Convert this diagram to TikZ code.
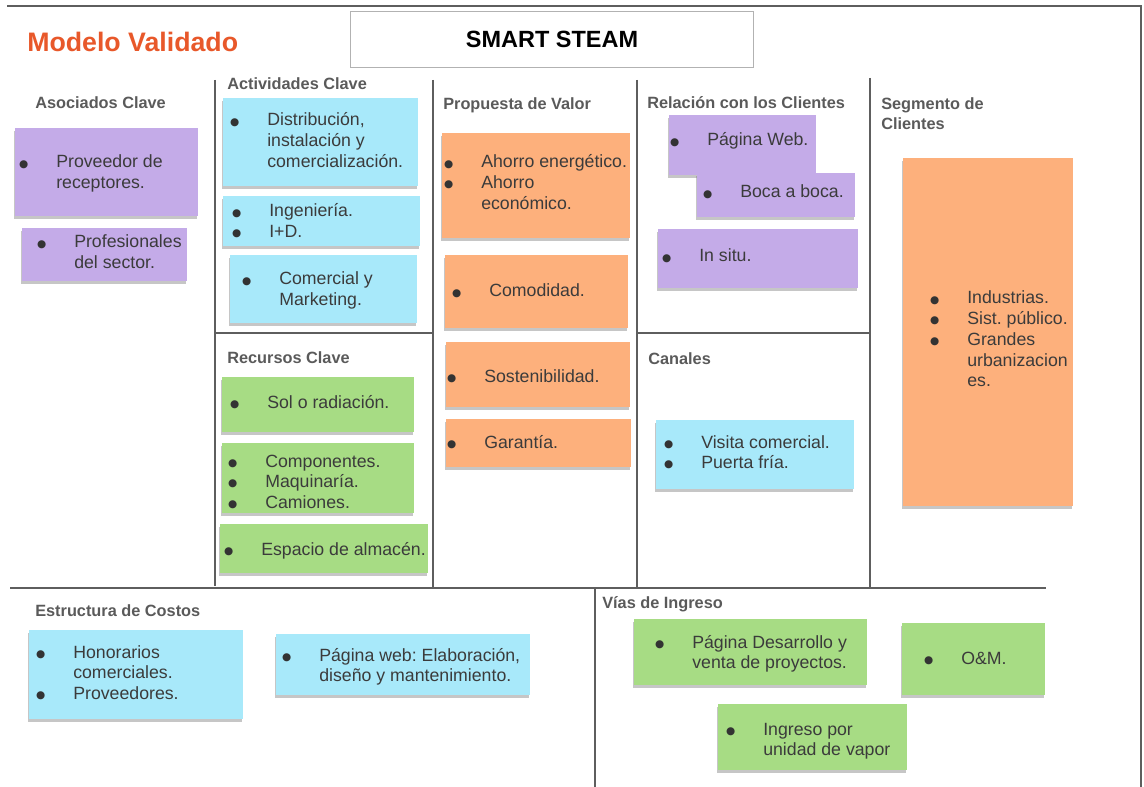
\documentclass[tikz,border=0pt]{standalone}
\usepackage{fontspec}
\setmainfont{Liberation Sans}
\newfontfamily\simbolos{DejaVu Sans}
\usetikzlibrary{shadows}
\frenchspacing

\definecolor{lila}{HTML}{C4ABE8}
\definecolor{celeste}{HTML}{A8E9FA}
\definecolor{naranja}{HTML}{FDB07C}
\definecolor{verde}{HTML}{A7DC84}
\definecolor{rotulo}{HTML}{E8582A}
\definecolor{linea}{HTML}{5E5E5E}
\definecolor{gris}{HTML}{5A5A5A}
\definecolor{tinta}{HTML}{3B3B3B}

\newcommand{\vin}{\llap{\makebox[26.5pt][l]{\raisebox{0.7pt}{\simbolos\fontsize{7.5}{8}\selectfont\color{black!80}●}}}}
\newcommand{\lista}[1]{\begin{tabular}[t]{@{}l@{}}#1\end{tabular}}

\tikzset{
  nota/.style={drop shadow={shadow xshift=-0.6pt, shadow yshift=-1.8pt, opacity=0.45}},
  texto/.style={anchor=base west, inner sep=0pt, text=tinta, font=\fontsize{12.6}{14.7}\selectfont},
  cabecera/.style={anchor=base west, inner sep=0pt, text=gris, font=\bfseries\fontsize{11.6}{14.2}\selectfont},
  marco/.style={draw=linea, line width=1.1pt}
}

\begin{document}
\begin{tikzpicture}[x=0.025cm, y=-0.025cm]
\useasboundingbox (0,0) rectangle (1144,787);

\draw[linea, line width=0.9pt] (7,6) -- (1141,6) -- (1141,787);
\draw[marco] (215,80) -- (215,586);
\draw[marco] (433,80) -- (433,588);
\draw[marco] (637,80) -- (637,588);
\draw[marco] (870,78) -- (870,588);
\draw[marco] (215,333) -- (433,333);
\draw[marco] (637,333) -- (870,333);
\draw[marco] (10,588) -- (1046,588);
\draw[marco] (595,588) -- (595,787);

\node[anchor=base west, inner sep=0pt, text=rotulo, font=\bfseries\fontsize{19}{22}\selectfont] (modelo) at (27,52) {Modelo Validado};
\node[draw=gray!60, line width=0.6pt, minimum width=286pt, minimum height=39.8pt, font=\bfseries\fontsize{16.7}{20}\selectfont] (proyecto) at (552,39) {SMART STEAM};

\node[cabecera] (asociados) at (35,109) {Asociados Clave};
\node[cabecera] (actividades) at (227,90) {Actividades Clave};
\node[cabecera] (propuesta) at (443,110) {Propuesta de Valor};
\node[cabecera] (relacion) at (647,109) {Relación con los Clientes};
\node[cabecera] (segmento) at (881,110) {\lista{Segmento de\\Clientes}};
\node[cabecera] (recursos) at (227,363) {Recursos Clave};
\node[cabecera] (canales) at (648,364) {Canales};
\node[cabecera] (costos) at (35,616) {Estructura de Costos};
\node[cabecera] (ingresos) at (602,608) {Vías de Ingreso};

\fill[lila, nota] (15,128) rectangle (198,216);
\fill[lila, nota] (22,228) rectangle (187,281);
\fill[lila, nota] (669,115) rectangle (816,175);
\fill[lila, nota] (697,173) rectangle (855,217);
\fill[lila, nota] (658,229) rectangle (858,288);

\fill[celeste, nota] (223,98) rectangle (418,186);
\fill[celeste, nota] (223,196) rectangle (420,246);
\fill[celeste, nota] (230,255) rectangle (417,323);
\fill[celeste, nota] (656,420) rectangle (854,489);
\fill[celeste, nota] (29,630) rectangle (243,719);
\fill[celeste, nota] (276,634) rectangle (530,695);

\fill[naranja, nota] (442,133) rectangle (630,238);
\fill[naranja, nota] (445,255) rectangle (628,328);
\fill[naranja, nota] (446,342) rectangle (630,407);
\fill[naranja, nota] (446,419) rectangle (631,467);
\fill[naranja, nota] (903,158) rectangle (1073,506);

\fill[verde, nota] (222,377) rectangle (414,432);
\fill[verde, nota] (222,443) rectangle (414,513);
\fill[verde, nota] (220,524) rectangle (428,573);
\fill[verde, nota] (634,619) rectangle (867,685);
\fill[verde, nota] (902,623) rectangle (1045,695);
\fill[verde, nota] (718,704) rectangle (907,770);

\node[texto] (proveedor) at (56,168) {\lista{\vin Proveedor de\\receptores.}};
\node[texto] (profesionales) at (74,248) {\lista{\vin Profesionales\\del sector.}};

\node[texto] (distribucion) at (267,126) {\lista{\vin Distribución,\\instalación y\\comercialización.}};
\node[texto] (ingenieria) at (269,217) {\lista{\vin Ingeniería.\\\vin I+D.}};
\node[texto] (comercial) at (279,285) {\lista{\vin Comercial y\\Marketing.}};

\node[texto] (ahorro) at (481,168) {\lista{\vin Ahorro energético.\\\vin Ahorro\\económico.}};
\node[texto] (comodidad) at (489,297) {\lista{\vin Comodidad.}};
\node[texto] (sostenibilidad) at (484,382) {\lista{\vin Sostenibilidad.}};
\node[texto] (garantia) at (484,448) {\lista{\vin Garantía.}};

\node[texto] (web) at (707,146) {\lista{\vin Página Web.}};
\node[texto] (boca) at (740,198) {\lista{\vin Boca a boca.}};
\node[texto] (situ) at (699,262) {\lista{\vin In situ.}};

\node[texto] (industrias) at (967,304) {\lista{\vin Industrias.\\\vin Sist. público.\\\vin Grandes\\urbanizacion\\es.}};

\node[texto] (sol) at (267,408) {\lista{\vin Sol o radiación.}};
\node[texto] (componentes) at (265,467) {\lista{\vin Componentes.\\\vin Maquinaría.\\\vin Camiones.}};
\node[texto] (almacen) at (261,555) {\lista{\vin Espacio de almacén.}};

\node[texto] (visita) at (701,448) {\lista{\vin Visita comercial.\\\vin Puerta fría.}};

\node[texto] (honorarios) at (73,658) {\lista{\vin Honorarios\\comerciales.\\\vin Proveedores.}};
\node[texto] (paginaweb) at (319,661) {\lista{\vin Página web: Elaboración,\\diseño y mantenimiento.}};

\node[texto] (desarrollo) at (692,648) {\lista{\vin Página Desarrollo y\\venta de proyectos.}};
\node[texto] (om) at (961,664) {\lista{\vin O\&M.}};
\node[texto] (vapor) at (763,735) {\lista{\vin Ingreso por\\unidad de vapor}};
\end{tikzpicture}
\end{document}
